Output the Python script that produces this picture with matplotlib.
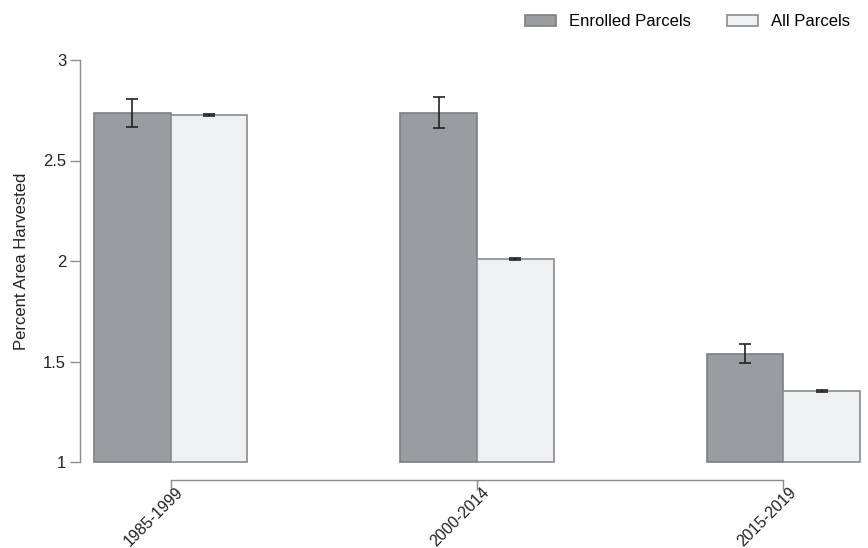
import numpy as np
import matplotlib
matplotlib.use('Agg')
import matplotlib.pyplot as plt
from matplotlib.transforms import ScaledTranslation

plt.rcParams['font.family'] = ['Liberation Sans', 'DejaVu Sans']

# Data
periods = ['1985-1999', '2000-2014', '2015-2019']
enrolled = np.array([2.736, 2.738, 1.539])
enrolled_err = [0.071, 0.077, 0.048]
all_parcels = np.array([2.726, 2.008, 1.353])
all_err = [0.005, 0.005, 0.005]

base = 1.0
x = np.arange(len(periods))
w = 0.25

fig = plt.figure(figsize=(8.68, 5.48), dpi=100)
ax = fig.add_axes([80/868, 1 - 462/548, 783/868, 402/548])

ax.bar(x - w/2, enrolled - base, w, bottom=base, color='#9b9ca0', edgecolor='#7e7f83',
       linewidth=1.2, label='Enrolled Parcels', zorder=2, clip_on=False)
ax.bar(x + w/2, all_parcels - base, w, bottom=base, color='#eff0f2', edgecolor='#8a8b8f',
       linewidth=1.2, label='All Parcels', zorder=2, clip_on=False)
ax.errorbar(x - w/2, enrolled, yerr=enrolled_err, fmt='none', ecolor='#222222',
            elinewidth=1.2, capsize=4.5, capthick=1.2, zorder=3)
ax.errorbar(x + w/2, all_parcels, yerr=all_err, fmt='none', ecolor='#222222',
            elinewidth=1.2, capsize=4.5, capthick=1.2, zorder=3)

ax.set_ylim(1, 3)
ax.set_xlim(-0.296, 2.26)
ax.set_yticks([1, 1.5, 2, 2.5, 3])
ax.set_yticklabels(['1', '1.5', '2', '2.5', '3'])
ax.set_xticks(x)
ax.set_xticklabels(periods)
ax.set_ylabel('Percent Area Harvested', fontsize=12, color='#222222', labelpad=10)

for s in ['top', 'right']:
    ax.spines[s].set_visible(False)
for s in ['left', 'bottom']:
    ax.spines[s].set_color('#8c8c8c')
    ax.spines[s].set_linewidth(1.0)
ax.spines['bottom'].set_position(('outward', 13))
ax.spines['bottom'].set_bounds(0, 2)
ax.tick_params(axis='both', colors='#8c8c8c', labelcolor='#222222',
               labelsize=12, length=7, width=1.0)
ax.tick_params(axis='y', pad=3)
ax.tick_params(axis='x', pad=-4, labelsize=11.5)
# nudge the rotated labels a little to the right, clear of the tick marks
shift = ScaledTranslation(5/100, 0, fig.dpi_scale_trans)
for lab in ax.get_xticklabels():
    lab.set_rotation(45)
    lab.set_ha('right')
    lab.set_va('top')
    lab.set_rotation_mode('anchor')
    lab.set_transform(lab.get_transform() + shift)

fig.legend(loc='center right', bbox_to_anchor=(858/868, 1 - 22/548), ncol=2,
           frameon=False, fontsize=12, borderpad=0, columnspacing=2.2,
           handlelength=1.85, handleheight=0.6, handletextpad=0.75)

plt.savefig('out.png', dpi=100)
